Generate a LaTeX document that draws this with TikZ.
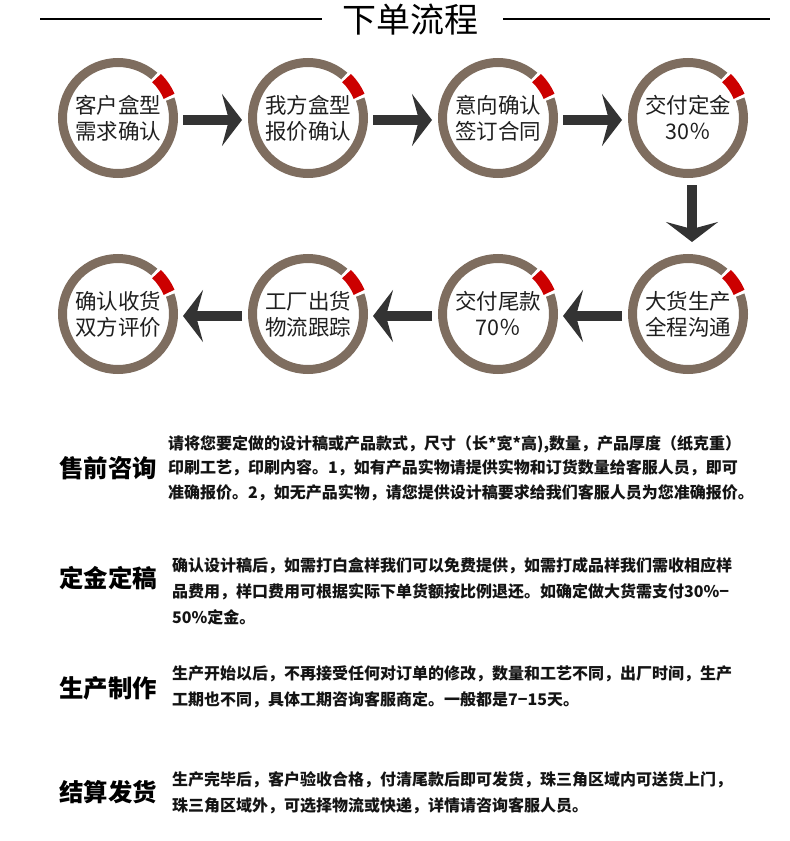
\documentclass[tikz,border=0pt]{standalone}
\usepackage{fontspec}
\setmainfont{Noto Sans CJK SC}
\usetikzlibrary{arrows.meta,positioning}
\definecolor{ringgray}{RGB}{126,109,95}
\definecolor{markred}{RGB}{204,0,0}
\definecolor{arrowdark}{RGB}{51,51,51}

\begin{document}
\begin{tikzpicture}[
  x=1pt, y=1pt,
  node distance=76pt and 70pt,
  stepc/.style={circle, draw=ringgray, line width=9pt, minimum size=111pt,
                inner sep=0pt, align=center, text=black!88,
                font=\fontsize{21.5}{26}\selectfont},
  flow/.style={-{Stealth[length=20pt,width=52pt,inset=7pt]}, arrowdark,
               line width=10pt, shorten <=5pt, shorten >=6pt},
  ringgap/.style={white, line width=12pt},
  redmark/.style={markred, line width=12pt},
  rule/.style={black, line width=1.8pt},
  sechead/.style={font=\fontsize{24.4}{26}\selectfont\bfseries, inner sep=0pt, anchor=west},
  para/.style={font=\fontsize{16}{26}\selectfont\bfseries, inner sep=0pt,
               align=left, anchor=base west, text=black!92},
]
\useasboundingbox (0,0) rectangle (790,-841);

% Title
\node[font=\fontsize{34}{34}\selectfont, inner sep=0pt] (title) at (410,-20) {下单流程};
\coordinate (rl0) at (40,-19);
\coordinate (rl1) at (322,-19);
\coordinate (rr0) at (503,-19);
\coordinate (rr1) at (770,-19);
\draw[rule] (rl0) -- (rl1);
\draw[rule] (rr0) -- (rr1);

% Steps
\node[stepc]               (s1) at (118,-118) {客户盒型\\需求确认};
\node[stepc, right=of s1]  (s2) {我方盒型\\报价确认};
\node[stepc, right=of s2]  (s3) {意向确认\\签订合同};
\node[stepc, right=of s3]  (s4) {交付定金\\30％};
\node[stepc, below=of s4]  (s5) {大货生产\\全程沟通};
\node[stepc, left=of s5]   (s6) {交付尾款\\70％};
\node[stepc, left=of s6]   (s7) {工厂出货\\物流跟踪};
\node[stepc, left=of s7]   (s8) {确认收货\\双方评价};

% red marks on the rings
\foreach \s in {s1,s2,s3,s4,s5,s6,s7,s8}{
  \draw[ringgap] ([shift={(20:55.5pt)}]\s.center) arc[start angle=20, end angle=49, radius=55.5pt];
  \draw[redmark] ([shift={(23:55.5pt)}]\s.center) arc[start angle=23, end angle=46, radius=55.5pt];
}

% Flow arrows
\draw[flow] ([yshift=-2pt]s1.east) -- ([yshift=-2pt]s2.west);
\draw[flow] ([yshift=-2pt]s2.east) -- ([yshift=-2pt]s3.west);
\draw[flow] ([yshift=-2pt]s3.east) -- ([yshift=-2pt]s4.west);
\draw[flow, shorten <=7pt, shorten >=12pt] ([xshift=4pt]s4.south) -- ([xshift=4pt]s5.north);
\draw[flow, shorten <=6pt, shorten >=5pt] ([yshift=-2pt]s5.west) -- ([yshift=-2pt]s6.east);
\draw[flow, shorten <=6pt, shorten >=5pt] ([yshift=-2pt]s6.west) -- ([yshift=-2pt]s7.east);
\draw[flow, shorten <=6pt, shorten >=5pt] ([yshift=-2pt]s7.west) -- ([yshift=-2pt]s8.east);

% Notes (base = last line)
\node[sechead] (h1) at (59,-468) {售前咨询};
\node[para, font=\fontsize{16}{24.5}\selectfont\bfseries] (p1) at (168,-498)
  {请将您要定做的设计稿或产品款式，尺寸（长*宽*高),数量，产品厚度（纸克重）\\
   印刷工艺，印刷内容。1，如有产品实物请提供实物和订货数量给客服人员，即可\\
   准确报价。2，如无产品实物，请您提供设计稿要求给我们客服人员为您准确报价。};

\node[sechead] (h2) at (59,-578) {定金定稿};
\node[para] (p2) at (172,-623)
  {确认设计稿后，如需打白盒样我们可以免费提供，如需打成品样我们需收相应样\\
   品费用，样口费用可根据实际下单货额按比例退还。如确定做大货需支付30\%−\\
   50\%定金。};

\node[sechead] (h3) at (59,-688) {生产制作};
\node[para] (p3) at (172,-705)
  {生产开始以后，不再接受任何对订单的修改，数量和工艺不同，出厂时间，生产\\
   工期也不同，具体工期咨询客服商定。一般都是7−15天。};

\node[sechead] (h4) at (59,-792) {结算发货};
\node[para] (p4) at (172,-811)
  {生产完毕后，客户验收合格，付清尾款后即可发货，珠三角区域内可送货上门，\\
   珠三角区域外，可选择物流或快递，详情请咨询客服人员。};

\end{tikzpicture}
\end{document}
